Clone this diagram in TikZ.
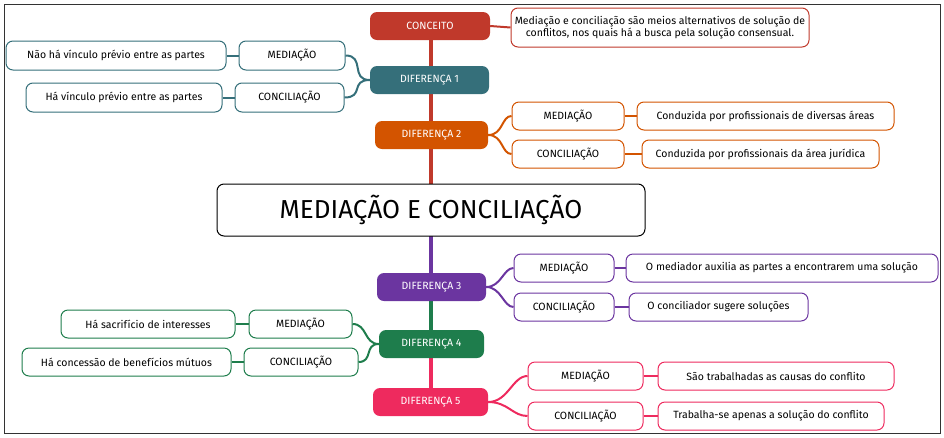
\documentclass[tikz,border=0pt]{standalone}
\usepackage{fontspec}
\setmainfont{Fira Sans}
\definecolor{cR}{HTML}{C0392B}
\definecolor{cT}{HTML}{356F7A}
\definecolor{cO}{HTML}{D35400}
\definecolor{cP}{HTML}{6B35A0}
\definecolor{cG}{HTML}{1E7D4C}
\definecolor{cK}{HTML}{EE2A5E}
\tikzset{
  box/.style={rounded corners=7pt,draw=#1,line width=1pt,fill=white,font=\fontsize{10.5}{12}\selectfont,inner sep=0pt,align=center},
  mainb/.style={rounded corners=7pt,fill=#1,text=white,font=\fontsize{10.5}{12}\selectfont,inner sep=0pt},
  lnk/.style={line width=2pt,draw=#1},
}
\newcommand{\bx}[7]{%
  \node[#2=#3,minimum width={#6-#4},minimum height={#7-#5}] (#1) at ({(#4+#6)/2},{(#5+#7)/2})}
\begin{document}
\begin{tikzpicture}[x=1pt,y=-1pt]
\useasboundingbox (0,0) rectangle (944,437);
\draw[line width=1pt,black!80] (4,4) rectangle (940,433);
\draw[lnk=cR,line width=4pt] (431,26) -- (431,190);
\draw[lnk=cP,line width=4pt] (431,230) -- (431,287);
\draw[lnk=cG,line width=4pt] (431,287) -- (431,344);
\draw[lnk=cK,line width=4pt] (431,344) -- (431,402);
\bx{c}{box}{black}{217}{184}{645}{236} {\fontsize{26}{28}\selectfont MEDIAÇÃO E CONCILIAÇÃO};
\bx{k}{mainb}{cR}{370}{12}{490}{40} {CONCEITO};
\bx{kt}{box}{cR}{511}{8}{809}{47} {Mediação e conciliação são meios alternativos de solução de\\conflitos, nos quais há a busca pela solução consensual.};
\draw[lnk=cR] (k.east) -- (kt.west);
\bx{d1}{mainb}{cT}{370}{66}{489}{94} {DIFERENÇA 1};
\bx{d1m}{box}{cT}{239}{41}{345}{70} {MEDIAÇÃO};
\bx{d1mt}{box}{cT}{6}{41}{226}{70} {Não há vínculo prévio entre as partes};
\bx{d1c}{box}{cT}{235}{83}{344}{112} {CONCILIAÇÃO};
\bx{d1ct}{box}{cT}{26}{83}{222}{112} {Há vínculo prévio entre as partes};
\draw[lnk=cT] (d1.west) .. controls +(-20,0) and +(20,0) .. (d1m.east);
\draw[lnk=cT] (d1.west) .. controls +(-20,0) and +(20,0) .. (d1c.east);
\draw[lnk=cT] (d1m.west) -- (d1mt.east);
\draw[lnk=cT] (d1c.west) -- (d1ct.east);
\bx{d2}{mainb}{cO}{375}{121}{488}{149} {DIFERENÇA 2};
\bx{d2m}{box}{cO}{512}{102}{624}{130} {MEDIAÇÃO};
\bx{d2mt}{box}{cO}{637}{102}{894}{130} {Conduzida por profissionais de diversas áreas};
\bx{d2c}{box}{cO}{512}{140}{624}{168} {CONCILIAÇÃO};
\bx{d2ct}{box}{cO}{642}{140}{879}{168} {Conduzida por profissionais da área jurídica};
\draw[lnk=cO] (d2.east) .. controls +(15,0) and +(-10,0) .. (d2m.west);
\draw[lnk=cO] (d2.east) .. controls +(15,0) and +(-10,0) .. (d2c.west);
\draw[lnk=cO] (d2m.east) -- (d2mt.west);
\draw[lnk=cO] (d2c.east) -- (d2ct.west);
\bx{d3}{mainb}{cP}{377}{273}{486}{301} {DIFERENÇA 3};
\bx{d3m}{box}{cP}{514}{254}{614}{282} {MEDIAÇÃO};
\bx{d3mt}{box}{cP}{626}{254}{938}{282} {O mediador auxilia as partes a encontrarem uma solução};
\bx{d3c}{box}{cP}{514}{293}{614}{321} {CONCILIAÇÃO};
\bx{d3ct}{box}{cP}{629}{293}{808}{321} {O conciliador sugere soluções};
\draw[lnk=cP] (d3.east) .. controls +(15,0) and +(-10,0) .. (d3m.west);
\draw[lnk=cP] (d3.east) .. controls +(15,0) and +(-10,0) .. (d3c.west);
\draw[lnk=cP] (d3m.east) -- (d3mt.west);
\draw[lnk=cP] (d3c.east) -- (d3ct.west);
\bx{d4}{mainb}{cG}{379}{330}{484}{358} {DIFERENÇA 4};
\bx{d4m}{box}{cG}{249}{310}{352}{338} {MEDIAÇÃO};
\bx{d4mt}{box}{cG}{61}{310}{235}{338} {Há sacrifício de interesses};
\bx{d4c}{box}{cG}{244}{348}{358}{376} {CONCILIAÇÃO};
\bx{d4ct}{box}{cG}{22}{348}{231}{376} {Há concessão de benefícios mútuos};
\draw[lnk=cG] (d4.west) .. controls +(-15,0) and +(15,0) .. (d4m.east);
\draw[lnk=cG] (d4.west) .. controls +(-15,0) and +(15,0) .. (d4c.east);
\draw[lnk=cG] (d4m.west) -- (d4mt.east);
\draw[lnk=cG] (d4c.west) -- (d4ct.east);
\bx{d5}{mainb}{cK}{373}{388}{488}{416} {DIFERENÇA 5};
\bx{d5m}{box}{cK}{528}{362}{643}{390} {MEDIAÇÃO};
\bx{d5mt}{box}{cK}{658}{362}{894}{390} {São trabalhadas as causas do conflito};
\bx{d5c}{box}{cK}{528}{402}{643}{430} {CONCILIAÇÃO};
\bx{d5ct}{box}{cK}{658}{402}{884}{430} {Trabalha-se apenas a solução do conflito};
\draw[lnk=cK] (d5.east) .. controls +(20,0) and +(-15,0) .. (d5m.west);
\draw[lnk=cK] (d5.east) .. controls +(20,0) and +(-15,0) .. (d5c.west);
\draw[lnk=cK] (d5m.east) -- (d5mt.west);
\draw[lnk=cK] (d5c.east) -- (d5ct.west);
\end{tikzpicture}
\end{document}
